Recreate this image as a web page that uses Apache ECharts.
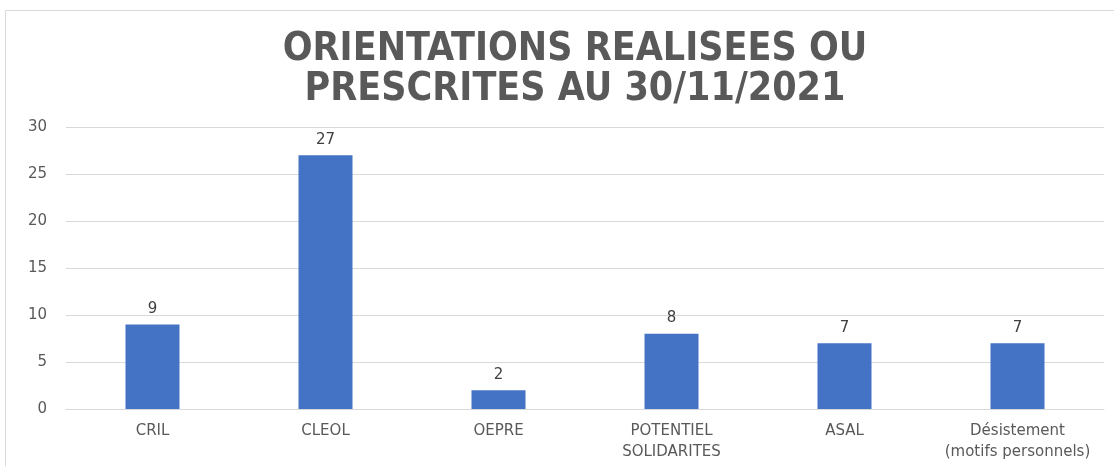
<!DOCTYPE html>
<html>
<head>
<meta charset="utf-8">
<script src="https://cdn.jsdelivr.net/npm/echarts@6/dist/echarts.min.js"></script>
<style>
  html, body { margin: 0; padding: 0; background: #fff; overflow: hidden; }
  #chart { width: 1114px; height: 466px; }
</style>
</head>
<body>
<div id="chart"></div>
<script>
// 数据
var categories = ['CRIL', 'CLEOL', 'OEPRE', 'POTENTIEL\nSOLIDARITES', 'ASAL', 'Désistement\n(motifs personnels)'];
var values = [9, 27, 2, 8, 7, 7];
var titleLines = ['ORIENTATIONS REALISEES OU', 'PRESCRITES AU 30/11/2021'];

var chart = echarts.init(document.getElementById('chart'));
chart.setOption({
    animation: false,
    graphic: [{
        type: 'rect',
        shape: { x: 5.5, y: 10.5, width: 1120, height: 470 },
        style: { fill: 'none', stroke: '#d9d9d9', lineWidth: 1 },
        silent: true
    }],
    title: {
        text: titleLines.join('\n'),
        left: 570,
        textAlign: 'center',
        top: 25,
        textStyle: {
            fontFamily: '"DejaVu Sans Condensed", "DejaVu Sans", sans-serif',
            fontWeight: 'bold',
            fontSize: 39,
            lineHeight: 40,
            color: '#595959'
        }
    },
    grid: { left: 66, right: 10, top: 127, bottom: 57 },
    xAxis: {
        type: 'category',
        data: categories,
        axisLine: { lineStyle: { color: '#d9d9d9', width: 1 } },
        axisTick: { show: false },
        axisLabel: {
            color: '#595959',
            fontFamily: 'DejaVu Sans',
            fontSize: 15,
            lineHeight: 21,
            margin: 12,
            interval: 0
        }
    },
    yAxis: {
        type: 'value',
        min: 0,
        max: 30,
        interval: 5,
        axisLine: { show: false },
        axisTick: { show: false },
        splitLine: { lineStyle: { color: '#d9d9d9', width: 1 } },
        axisLabel: {
            color: '#595959',
            fontFamily: 'DejaVu Sans',
            fontSize: 15,
            margin: 19
        }
    },
    series: [{
        type: 'bar',
        data: values,
        barWidth: 54,
        itemStyle: { color: '#4472c4' },
        label: {
            show: true,
            position: 'top',
            distance: 8,
            color: '#404040',
            fontFamily: 'DejaVu Sans',
            fontSize: 15
        }
    }]
});
</script>
</body>
</html>
